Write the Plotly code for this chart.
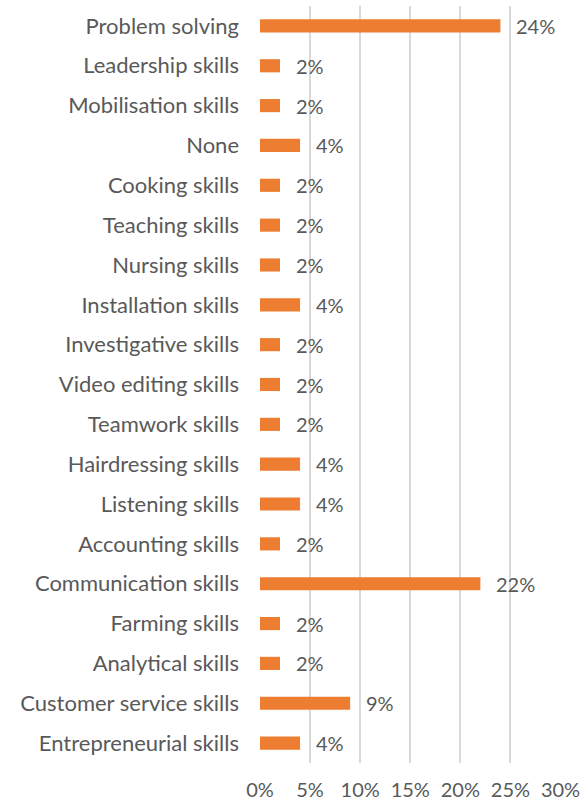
import plotly.graph_objects as go

# Skills reported, listed top to bottom as displayed
skills = [
    "Problem solving", "Leadership skills", "Mobilisation skills", "None",
    "Cooking skills", "Teaching skills", "Nursing skills", "Installation skills",
    "Investigative skills", "Video editing skills", "Teamwork skills",
    "Hairdressing skills", "Listening skills", "Accounting skills",
    "Communication skills", "Farming skills", "Analytical skills",
    "Customer service skills", "Entrepreneurial skills",
]
shares = [24, 2, 2, 4, 2, 2, 2, 4, 2, 2, 2, 4, 4, 2, 22, 2, 2, 9, 4]

x_ticks = [0, 5, 10, 15, 20, 25, 30]
x_tick_labels = ["0%", "5%", "10%", "15%", "20%", "25%", "30%"]

BAR = "#ED7D31"
TEXT = "#595959"
GRID = "#D9D9D9"
FONT = "Lato"

fig = go.Figure(
    go.Bar(
        x=shares,
        y=skills,
        orientation="h",
        marker=dict(color=BAR, line=dict(width=0)),
        width=0.33,
        hoverinfo="skip",
    )
)

# Value labels to the right of each bar
for s, v in zip(skills, shares):
    fig.add_annotation(
        x=v, y=s, text=f"{v}%", showarrow=False,
        xanchor="left", yanchor="middle", xshift=14,
        font=dict(family=FONT, size=20, color=TEXT),
    )

fig.update_layout(
    width=586, height=804,
    margin=dict(l=260, r=25, t=6, b=41),
    paper_bgcolor="white", plot_bgcolor="white",
    showlegend=False,
    font=dict(family=FONT, size=20, color=TEXT),
    xaxis=dict(
        range=[0, 30.05], tickvals=x_ticks, ticktext=x_tick_labels,
        showgrid=True, gridcolor=GRID, gridwidth=1.5,
        zeroline=False, showline=False, ticks="",
        ticklabelstandoff=13, automargin=False,
        tickfont=dict(family=FONT, size=20, color=TEXT),
        fixedrange=True,
    ),
    yaxis=dict(
        categoryorder="array", categoryarray=skills[::-1],
        showgrid=False, zeroline=False, showline=False, ticks="",
        ticklabelstandoff=20, automargin=False,
        tickfont=dict(family=FONT, size=22, color=TEXT),
        fixedrange=True,
    ),
)

fig.write_html("out.html")
